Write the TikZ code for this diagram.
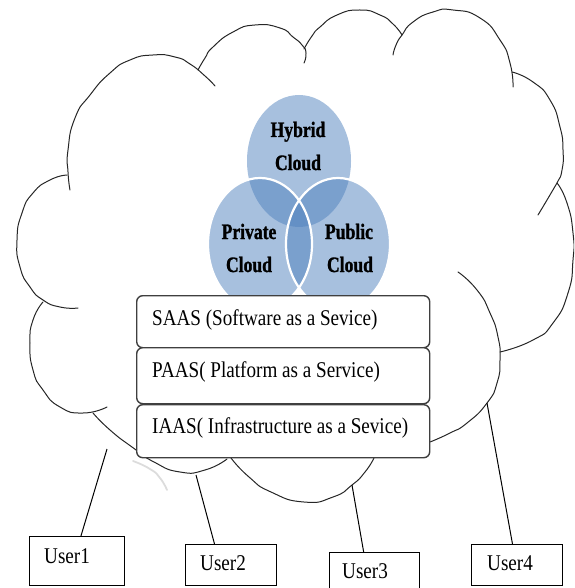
\documentclass[tikz,border=0pt]{standalone}
\usepackage{fontspec}
\setmainfont{Liberation Serif}
\newfontfamily\boxfont{Liberation Serif}[FakeStretch=0.85]
\newfontfamily\vennfont{Liberation Serif}[FakeStretch=0.8, FakeBold=1.2]
\usetikzlibrary{calc}
\definecolor{vennblue}{HTML}{4F81BD}
\definecolor{cloudline}{HTML}{262626}
\definecolor{boxline}{HTML}{3F3F3F}
\tikzset{
  cloudarc/.style={draw=cloudline, line width=1pt, line cap=round},
  softarc/.style={draw=gray!60, line width=1.8pt, line cap=round, opacity=0.45},
  vennfill/.style={fill=vennblue, fill opacity=0.5},
  vennrim/.style={draw=white, line width=2.2pt},
  layerbox/.style={draw=boxline, line width=1.4pt, fill=white, rounded corners=6pt,
    rectangle, inner sep=0pt, anchor=north west},
  layertext/.style={font=\boxfont\fontsize{22.5}{26}\selectfont, anchor=base west, inner sep=0pt},
  venntext/.style={font=\vennfont\bfseries\fontsize{22}{26}\selectfont, anchor=base, inner sep=0pt},
  userbox/.style={draw=black, line width=1.2pt, fill=white, rectangle, inner sep=0pt,
    anchor=north west},
  usertext/.style={font=\boxfont\fontsize{22.5}{26}\selectfont, anchor=base west, inner sep=0pt},
  userlink/.style={draw=black, line width=1pt},
}
\begin{document}
\begin{tikzpicture}[x=1pt, y=-1pt]
\useasboundingbox (0,0) rectangle (574,588);
\clip (0,0) rectangle (574,588);

% ---- cloud outline, lobe by lobe ----
\begin{scope}[smooth, tension=1]
\draw[cloudarc] plot coordinates {(70,190) (68,172) (68,150) (75,118) (90,95) (110,73) (130,60) (153,55) (175,57) (190,64) (205,76) (215,86)};
\draw[cloudarc] plot coordinates {(198,70) (205,58) (213,47) (233,32) (255,25) (280,28) (293,37) (302,45) (306,53) (304,63)};
\draw[cloudarc] plot coordinates {(304,49) (312,36) (320,27) (337,15) (360,10) (380,15) (393,24) (402,35)};
\draw[cloudarc] plot coordinates {(393,55) (396,45) (402,35) (413,22) (433,12) (453,10) (480,18) (500,40) (510,63) (513,87)};
\draw[cloudarc] plot coordinates {(512,72) (533,82) (550,100) (560,127) (563,150) (562,170) (557,183) (547,200) (538,215)};
\draw[cloudarc] plot coordinates {(557,183) (567,203) (573,233) (573,260) (568,293) (553,323) (533,340) (500,352)};
\draw[cloudarc] plot coordinates {(458,272) (477,290) (490,313) (498,337) (500,360) (497,383) (487,403) (467,423) (450,433) (430,442)};
\draw[cloudarc] plot coordinates {(231,458) (249,477) (271,492) (304,502) (333,497) (352,485) (365,472) (374,458)};
\draw[cloudarc] plot coordinates {(67,175) (50,180) (33,193) (22,213) (17,240) (20,267) (30,287) (43,300) (60,307) (78,308)};
\draw[cloudarc] plot coordinates {(43,302) (33,320) (30,343) (33,370) (43,390) (60,407) (83,413) (107,407)};
\draw[cloudarc] plot coordinates {(93,413) (110,430) (132,447) (154,462) (180,472) (205,470) (227,459)};
\draw[softarc] plot coordinates {(133,461) (150,469) (160,478) (167,490)};
\end{scope}

% ---- where the user links leave the cloud ----
\coordinate (c1) at (107,449);
\coordinate (c2) at (196,475);
\coordinate (c3) at (352,485);
\coordinate (c4) at (487,403);

% ---- deployment models ----
\fill[vennfill] (299,161) ellipse [x radius=52pt, y radius=66pt];
\fill[vennfill] (260,244) ellipse [x radius=52pt, y radius=66pt];
\fill[vennfill] (338,244) ellipse [x radius=52pt, y radius=66pt];
\draw[vennrim] (260,244) ellipse [x radius=52pt, y radius=66pt];
\draw[vennrim] (338,244) ellipse [x radius=52pt, y radius=66pt];

\node[venntext] (hyb1) at (298,137) {Hybrid};
\node[venntext] (hyb2) at (298,170) {Cloud};
\node[venntext] (prv1) at (249,239) {Private};
\node[venntext] (prv2) at (249,272) {Cloud};
\node[venntext] (pub1) at (349,239) {Public};
\node[venntext] (pub2) at (350,272) {Cloud};

% ---- service layers ----
\node[layerbox, minimum width=293pt, minimum height=52pt] (saas) at (136,295) {};
\node[layerbox, minimum width=293pt, minimum height=56pt] (paas) at (136,347) {};
\node[layerbox, minimum width=293pt, minimum height=53pt] (iaas) at (136,404) {};
\node[layertext] (saas-t) at (152,325) {SAAS (Software as a Sevice)};
\node[layertext] (paas-t) at (152,377) {PAAS( Platform as a Service)};
\node[layertext] (iaas-t) at (152,433) {IAAS( Infrastructure as a Sevice)};

% ---- users ----
\node[userbox, minimum width=95pt, minimum height=49pt] (u1) at (29,536) {};
\node[userbox, minimum width=91pt, minimum height=41pt] (u2) at (185,544) {};
\node[userbox, minimum width=90pt, minimum height=45pt] (u3) at (329,552) {};
\node[userbox, minimum width=91pt, minimum height=41pt] (u4) at (471,544) {};
\node[usertext] (u1-t) at (44,563) {User1};
\node[usertext] (u2-t) at (200,570) {User2};
\node[usertext] (u3-t) at (342,578) {User3};
\node[usertext] (u4-t) at (487,570) {User4};

\draw[userlink] (c1) -- ($(u1.north west)!0.54!(u1.north east)$);
\draw[userlink] (c2) -- ($(u2.north west)!0.32!(u2.north east)$);
\draw[userlink] (c3) -- ($(u3.north west)!0.38!(u3.north east)$);
\draw[userlink] (c4) -- ($(u4.north west)!0.45!(u4.north east)$);
\end{tikzpicture}
\end{document}
